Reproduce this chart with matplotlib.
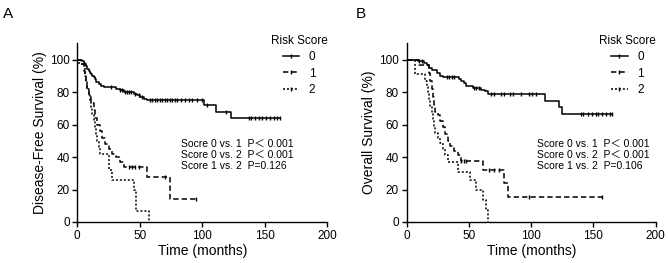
import numpy as np
import matplotlib.pyplot as plt
from matplotlib.lines import Line2D

plt.rcParams['font.family'] = ['Liberation Sans', 'Noto Sans CJK SC', 'DejaVu Sans']

# Panel A: disease-free survival, step curves (time in months, survival in %)
a0_t = [0, 4, 5, 6, 7, 8, 9, 10, 11, 12, 13, 14, 15, 17, 19, 21, 31, 34, 37, 45, 48, 50, 53, 56, 101, 111, 123]
a0_s = [100, 99, 98, 97, 96, 94, 93, 92, 91, 90, 89, 88, 86, 85, 84, 83, 82, 81, 80, 79, 78, 77, 76, 75, 72, 68, 64]
a0_end = 162
a0_cens = [27, 34, 36, 38, 40, 41, 43, 46, 49, 52, 58, 60, 62, 64, 66, 68, 70, 72, 74, 76, 78, 80, 83,
           86, 89, 92, 96, 100, 104, 119, 137, 139, 142, 145, 148, 151, 154, 157, 160, 162]

a1_t = [0, 3, 5, 6, 7, 8, 9, 11, 13, 14, 16, 18, 20, 22, 25, 28, 31, 34, 37, 56, 74]
a1_s = [100, 97, 93, 89, 85, 81, 77, 73, 69, 64, 60, 56, 52, 48, 45, 42, 40, 37, 34, 27.5, 14]
a1_end = 95
a1_cens = [41, 44, 46, 49, 70, 95]

a2_t = [0, 1, 6, 7, 8, 9, 10, 11, 12, 13, 14, 15, 16, 17, 18, 25, 28, 45, 47, 57]
a2_s = [100, 97, 90, 86, 82, 78, 74, 70, 66, 62, 58, 54, 50, 46, 42, 32, 26, 20, 7, 0]
a2_end = 57.5
a2_cens = []

# Panel B: overall survival
b0_t = [0, 9, 14, 16, 18, 20, 24, 27, 29, 42, 44, 46, 48, 53, 60, 63, 65, 111, 122, 125]
b0_s = [100, 99, 98, 96.5, 95, 93.5, 91.5, 90, 89, 88, 87, 85.5, 84, 82.5, 81.5, 80.5, 79, 74.5, 71, 66.5]
b0_end = 165
b0_cens = [10, 12, 32, 34, 36, 38, 54, 56, 58, 68, 70, 76, 78, 83, 85, 92, 98, 101, 104,
           140, 142, 146, 149, 152, 154, 157, 160, 163, 165]

b1_t = [0, 10, 18, 19, 20, 21, 22, 23, 25, 27, 29, 31, 33, 35, 38, 41, 43.5, 61, 78, 81]
b1_s = [100, 96.5, 92, 87, 82, 77, 72, 68, 65.8, 62, 58.6, 54, 50, 47, 44, 41, 37.5, 32, 24, 15.6]
b1_end = 157
b1_cens = [44, 46, 48, 66, 70, 74, 98, 157]

b2_t = [0, 7, 15, 16, 17, 18, 19, 20, 21, 22, 23, 25, 27, 29, 31, 33, 41, 51, 56, 61, 64, 65.5]
b2_s = [100, 91.4, 87, 83, 79, 75, 71, 67, 63, 59, 55, 52, 48.5, 45, 41, 37, 31, 25.7, 19.5, 13.5, 7.4, 0]
b2_end = 65.5
b2_cens = []

groups = ['0', '1', '2']
styles = ['-', (0, (3.5, 2)), (0, (1.3, 1.3))]

a_stats = ['Socre 0 vs. 1  P\uff1c 0.001', 'Score 0 vs. 2  P\uff1c 0.001', 'Score 1 vs. 2  P=0.126']
b_stats = ['Score 0 vs. 1  P\uff1c 0.001', 'Score 0 vs. 2  P\uff1c 0.001', 'Score 1 vs. 2  P=0.106']


def km(ax, t, s, end, cens, ls):
    t = np.array(t + [end], dtype=float)
    s = np.array(s + [s[-1]], dtype=float)
    ax.step(t, s, where='post', color='k', lw=1.1, ls=ls)
    if cens:
        c = np.array(cens, dtype=float)
        idx = np.searchsorted(t, c, side='right') - 1
        ax.plot(c, s[idx], ls='none', marker='|', ms=3.5, mew=1.0, color='k')


def setup(ax, ylabel, stats, sx):
    ax.set_xlim(0, 200)
    ax.set_ylim(0, 110)
    ax.set_xticks([0, 50, 100, 150, 200])
    ax.set_yticks([0, 20, 40, 60, 80, 100])
    ax.spines['top'].set_visible(False)
    ax.spines['right'].set_visible(False)
    for sp in ['left', 'bottom']:
        ax.spines[sp].set_linewidth(1.0)
    ax.tick_params(direction='out', length=3.5, width=1.0, pad=2, labelsize=8.5)
    ax.set_xlabel('Time (months)', fontsize=10, labelpad=2)
    ax.set_ylabel(ylabel, fontsize=10, labelpad=2)
    for i, txt in enumerate(stats):
        ax.text(sx, 48 - i * 6.8, txt, fontsize=7.5, va='center', ha='left')
    handles = [Line2D([], [], color='k', lw=1.1, ls=styles[i], marker='|', ms=3.5) for i in range(3)]
    ax.legend(handles, groups, title='Risk Score', loc='upper right', bbox_to_anchor=(1.0, 1.045),
              frameon=False, fontsize=8.5, title_fontsize=8.5, handlelength=1.4,
              handletextpad=0.8, labelspacing=0.35, numpoints=1, borderpad=0, borderaxespad=0)


fig = plt.figure(figsize=(6.68, 2.63), dpi=100)
axA = fig.add_axes([0.1157, 0.156, 0.3743, 0.679])
axB = fig.add_axes([0.6088, 0.156, 0.3728, 0.679])

for (t, s, e, c), ls in zip([(a0_t, a0_s, a0_end, a0_cens), (a1_t, a1_s, a1_end, a1_cens),
                             (a2_t, a2_s, a2_end, a2_cens)], styles):
    km(axA, t, s, e, c, ls)
for (t, s, e, c), ls in zip([(b0_t, b0_s, b0_end, b0_cens), (b1_t, b1_s, b1_end, b1_cens),
                             (b2_t, b2_s, b2_end, b2_cens)], styles):
    km(axB, t, s, e, c, ls)

setup(axA, 'Disease-Free Survival (%)', a_stats, 83)
setup(axB, 'Overall Survival (%)', b_stats, 105)

fig.text(0.004, 0.93, 'A', fontsize=11)
fig.text(0.532, 0.93, 'B', fontsize=11)

fig.savefig('out.png', dpi=100)
